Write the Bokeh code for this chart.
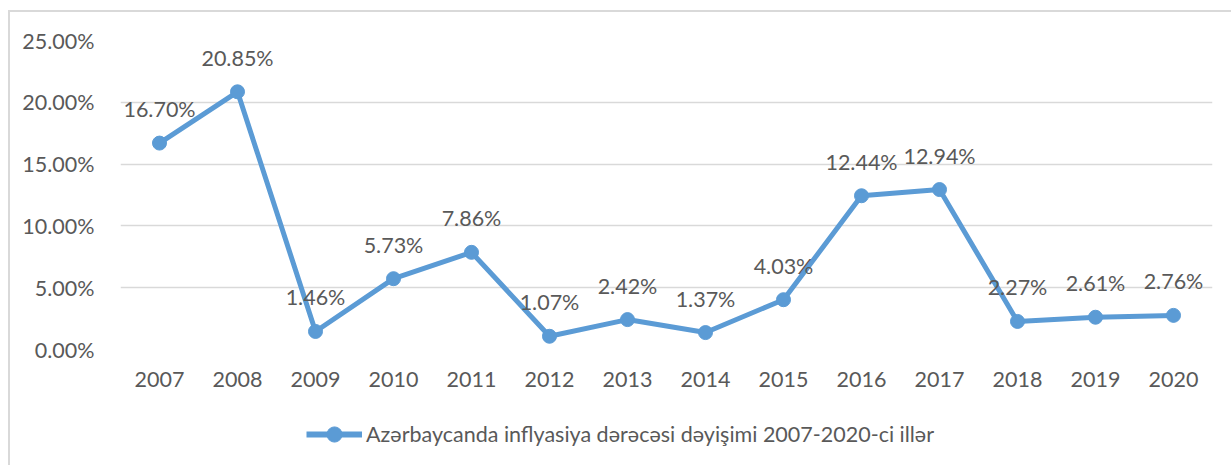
from bokeh.plotting import figure
from bokeh.models import (ColumnDataSource, LabelSet, FixedTicker, NumeralTickFormatter,
                          Legend, LegendItem, Range1d, Spacer)
from bokeh.layouts import column, row
from bokeh.core.properties import value
from bokeh.embed import file_html
from bokeh.resources import INLINE

years = ["2007", "2008", "2009", "2010", "2011", "2012", "2013",
         "2014", "2015", "2016", "2017", "2018", "2019", "2020"]
inflation = [0.1670, 0.2085, 0.0146, 0.0573, 0.0786, 0.0107, 0.0242,
             0.0137, 0.0403, 0.1244, 0.1294, 0.0227, 0.0261, 0.0276]
y_ticks = [0.0, 0.05, 0.10, 0.15, 0.20, 0.25]
series_name = "Azərbaycanda inflyasiya dərəcəsi dəyişimi 2007-2020-ci illər"

labels = ["{:.2f}%".format(v * 100) for v in inflation]
src = ColumnDataSource(dict(x=years, y=inflation, lab=labels))

FONT = "Lato"
FS = "21.5px"
TXT = "#595959"
BLUE = "#5B9BD5"
GRID = "#D9D9D9"

# main chart (canvas origin at page x=10, y=12)
p = figure(width=1221, height=388, x_range=years, y_range=Range1d(0, 0.25),
           output_backend="svg", toolbar_location=None,
           min_border_left=110, min_border_right=19, min_border_top=28,
           min_border_bottom=51)
p.x_range.range_padding = 0
p.outline_line_color = None
p.background_fill_color = "white"
p.border_fill_color = "white"

p.xgrid.grid_line_color = None
p.ygrid.grid_line_color = GRID
p.ygrid.grid_line_width = 1.5

p.yaxis.ticker = FixedTicker(ticks=y_ticks)
p.yaxis.formatter = NumeralTickFormatter(format="0.00%")
for ax in (p.xaxis[0], p.yaxis[0]):
    ax.axis_line_color = None
    ax.major_tick_line_color = None
    ax.minor_tick_line_color = None
    ax.major_label_text_font = FONT
    ax.major_label_text_font_size = FS
    ax.major_label_text_color = TXT
p.yaxis.major_label_standoff = 20
p.xaxis.major_label_standoff = 16

p.line("x", "y", source=src, line_color=BLUE, line_width=5)
p.scatter("x", "y", source=src, size=14, fill_color=BLUE, line_color=BLUE)

ls = LabelSet(x="x", y="y", text="lab", source=src, y_offset=34,
              text_align="center", text_baseline="middle",
              text_font=value(FONT), text_font_size=value(FS), text_color=TXT)
p.add_layout(ls)

# legend strip (page y 412..465); series drawn off-range so only the legend key shows
lg = figure(width=1221, height=53, x_range=years, y_range=Range1d(10, 11),
            output_backend="svg", toolbar_location=None,
            min_border_left=0, min_border_right=0, min_border_top=0, min_border_bottom=0)
lg.axis.visible = False
lg.grid.visible = False
lg.outline_line_color = None
lg.background_fill_color = None
lg.border_fill_color = None
l_ln = lg.line("x", "y", source=src, line_color=BLUE, line_width=6)
l_sc = lg.scatter("x", "y", source=src, size=15, fill_color=BLUE, line_color=BLUE)
legend = Legend(items=[LegendItem(label=series_name, renderers=[l_ln, l_sc])],
                location=(186, 12), orientation="horizontal",
                label_text_font=FONT, label_text_font_size=FS,
                label_text_color=TXT, glyph_width=56, glyph_height=38,
                label_height=20, padding=0, margin=0, label_standoff=4,
                spacing=0, border_line_color=None, background_fill_alpha=0)
lg.add_layout(legend, "center")

# chart area border (top and left edges visible)
top_border = Spacer(width=1223, height=2, styles={"background-color": GRID})
left_border = Spacer(width=2, height=453, styles={"background-color": GRID})

page = column(
    Spacer(width=1231, height=10),
    row(Spacer(width=8, height=2), top_border),
    row(Spacer(width=8, height=453), left_border, column(p, Spacer(width=1221, height=12), lg)),
)

open("out.html", "w").write(file_html(page, INLINE))
